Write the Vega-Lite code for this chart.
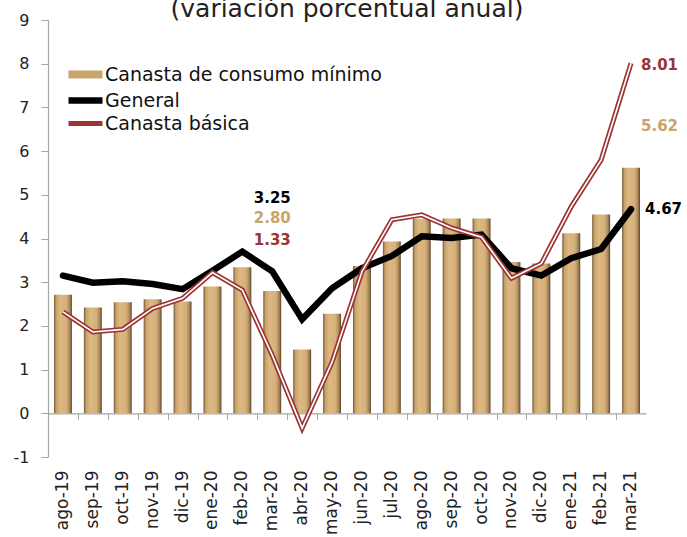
{
  "$schema": "https://vega.github.io/schema/vega-lite/v6.json",
  "autosize": "none",
  "width": 598,
  "height": 437,
  "padding": {"left": 48, "top": 20, "right": 41, "bottom": 80},
  "background": "white",
  "title": {"text": "(variación porcentual anual)", "fontSize": 25, "fontWeight": "normal", "font": "DejaVu Sans", "color": "#222", "anchor": "middle", "offset": 2, "dy": 12},
  "config": {
    "view": {"stroke": null},
    "font": "DejaVu Sans",
    "axis": {"labelFont": "DejaVu Sans", "labelColor": "#222", "grid": false, "title": null},
    "legend": {"labelFont": "DejaVu Sans"}
  },
  "data": {"values": [
    {"mes": "ago-19", "minimo": 2.71, "general": 3.15, "basica": 2.32},
    {"mes": "sep-19", "minimo": 2.42, "general": 2.99, "basica": 1.86},
    {"mes": "oct-19", "minimo": 2.54, "general": 3.02, "basica": 1.92},
    {"mes": "nov-19", "minimo": 2.61, "general": 2.96, "basica": 2.40},
    {"mes": "dic-19", "minimo": 2.56, "general": 2.84, "basica": 2.63},
    {"mes": "ene-20", "minimo": 2.90, "general": 3.26, "basica": 3.22},
    {"mes": "feb-20", "minimo": 3.34, "general": 3.70, "basica": 2.82},
    {"mes": "mar-20", "minimo": 2.80, "general": 3.25, "basica": 1.33},
    {"mes": "abr-20", "minimo": 1.46, "general": 2.15, "basica": -0.34},
    {"mes": "may-20", "minimo": 2.28, "general": 2.86, "basica": 1.17},
    {"mes": "jun-20", "minimo": 3.37, "general": 3.32, "basica": 3.24},
    {"mes": "jul-20", "minimo": 3.93, "general": 3.60, "basica": 4.43},
    {"mes": "ago-20", "minimo": 4.45, "general": 4.05, "basica": 4.54},
    {"mes": "sep-20", "minimo": 4.46, "general": 4.01, "basica": 4.24},
    {"mes": "oct-20", "minimo": 4.46, "general": 4.09, "basica": 4.03},
    {"mes": "nov-20", "minimo": 3.46, "general": 3.32, "basica": 3.09},
    {"mes": "dic-20", "minimo": 3.43, "general": 3.15, "basica": 3.43},
    {"mes": "ene-21", "minimo": 4.12, "general": 3.55, "basica": 4.73},
    {"mes": "feb-21", "minimo": 4.55, "general": 3.76, "basica": 5.80},
    {"mes": "mar-21", "minimo": 5.62, "general": 4.67, "basica": 8.01}
  ]},
  "resolve": {"axis": {"x": "independent"}},
  "layer": [
    {
      "mark": {"type": "bar", "fill": {"gradient": "linear", "x1": 0, "x2": 1, "y1": 0, "y2": 0, "stops": [
        {"offset": 0, "color": "#6e5738"},
        {"offset": 0.12, "color": "#c8a168"},
        {"offset": 0.35, "color": "#dcb882"},
        {"offset": 0.7, "color": "#d6b07a"},
        {"offset": 0.88, "color": "#a88659"},
        {"offset": 1, "color": "#574429"}
      ]}},
      "encoding": {
        "x": {"field": "mes", "type": "ordinal", "sort": null,
          "scale": {"paddingInner": 0.4, "paddingOuter": 0.2},
          "axis": {"orient": "bottom", "domain": false, "ticks": false, "labelAngle": -90, "labelFontSize": 17, "labelPadding": 13, "labelColor": "#222"}},
        "y": {"field": "minimo", "type": "quantitative",
          "scale": {"domain": [-1, 9], "nice": false, "zero": false},
          "axis": {"values": [-1, 0, 1, 2, 3, 4, 5, 6, 7, 8, 9], "labelExpr": "replace(datum.label, '−', '-')", "domainColor": "#a6a6a6", "tickColor": "#a6a6a6", "tickSize": 7, "labelFontSize": 16, "labelPadding": 12, "domainWidth": 1.2}}
      }
    },
    {
      "mark": {"type": "rule", "opacity": 0},
      "encoding": {
        "x": {"field": "mes", "type": "ordinal", "sort": null,
          "axis": {"orient": "bottom", "offset": -43.7, "labels": false, "domain": true, "ticks": true, "tickOffset": -14.95, "tickSize": 6, "domainColor": "#a6a6a6", "tickColor": "#a6a6a6", "domainWidth": 1.2}}
      }
    },
    {
      "mark": {"type": "line", "strokeCap": "round", "strokeJoin": "miter"},
      "encoding": {
        "x": {"field": "mes", "type": "ordinal", "sort": null, "axis": null},
        "y": {"field": "general", "type": "quantitative"},
        "color": {"datum": "General", "type": "nominal",
          "scale": {"domain": ["Canasta de consumo mínimo", "General", "Canasta básica"], "range": ["#c9a46c", "#000000", "#9b3434"]},
          "legend": {"orient": "none", "legendX": 35, "legendY": 45, "title": null, "symbolType": "M-4.8,0H2", "symbolSize": 100, "labelFontSize": 19, "labelLimit": 400, "labelColor": "#111", "rowPadding": -5, "labelOffset": 3}},
        "strokeWidth": {"datum": "General", "type": "nominal",
          "scale": {"domain": ["Canasta de consumo mínimo", "General", "Canasta básica"], "range": [8, 5, 4]},
          "legend": {"orient": "none", "legendX": 35, "legendY": 45, "title": null, "symbolType": "M-4.8,0H2", "symbolSize": 100, "labelFontSize": 19, "labelLimit": 400, "labelColor": "#111", "rowPadding": -5, "labelOffset": 3}}
      }
    },
    {
      "mark": {"type": "line", "strokeJoin": "miter"},
      "encoding": {
        "x": {"field": "mes", "type": "ordinal", "sort": null, "axis": null},
        "y": {"field": "basica", "type": "quantitative"},
        "color": {"datum": "Canasta básica", "type": "nominal"},
        "strokeWidth": {"datum": "Canasta básica", "type": "nominal"}
      }
    },
    {
      "mark": {"type": "line", "color": "white", "strokeWidth": 1.6, "strokeJoin": "miter"},
      "encoding": {
        "x": {"field": "mes", "type": "ordinal", "sort": null, "axis": null},
        "y": {"field": "basica", "type": "quantitative"}
      }
    },
    {
      "transform": [{"filter": "datum.mes == 'mar-20'"}],
      "mark": {"type": "text", "fontWeight": "bold", "fontSize": 15, "color": "#000", "dy": -73, "baseline": "middle"},
      "encoding": {
        "x": {"field": "mes", "type": "ordinal", "sort": null, "axis": null},
        "y": {"field": "general", "type": "quantitative"},
        "text": {"field": "general", "type": "quantitative", "format": ".2f"}
      }
    },
    {
      "transform": [{"filter": "datum.mes == 'mar-20'"}],
      "mark": {"type": "text", "fontWeight": "bold", "fontSize": 15, "color": "#c9a46c", "dy": -73, "baseline": "middle"},
      "encoding": {
        "x": {"field": "mes", "type": "ordinal", "sort": null, "axis": null},
        "y": {"field": "minimo", "type": "quantitative"},
        "text": {"field": "minimo", "type": "quantitative", "format": ".2f"}
      }
    },
    {
      "transform": [{"filter": "datum.mes == 'mar-20'"}],
      "mark": {"type": "text", "fontWeight": "bold", "fontSize": 15, "color": "#9b3434", "dy": -115, "baseline": "middle"},
      "encoding": {
        "x": {"field": "mes", "type": "ordinal", "sort": null, "axis": null},
        "y": {"field": "basica", "type": "quantitative"},
        "text": {"field": "basica", "type": "quantitative", "format": ".2f"}
      }
    },
    {
      "transform": [{"filter": "datum.mes == 'mar-21'"}],
      "mark": {"type": "text", "fontWeight": "bold", "fontSize": 15, "color": "#9b3434", "dx": 10, "dy": 2, "align": "left", "baseline": "middle"},
      "encoding": {
        "x": {"field": "mes", "type": "ordinal", "sort": null, "axis": null},
        "y": {"field": "basica", "type": "quantitative"},
        "text": {"field": "basica", "type": "quantitative", "format": ".2f"}
      }
    },
    {
      "transform": [{"filter": "datum.mes == 'mar-21'"}],
      "mark": {"type": "text", "fontWeight": "bold", "fontSize": 15, "color": "#c9a46c", "dx": 10, "dy": -42, "align": "left", "baseline": "middle"},
      "encoding": {
        "x": {"field": "mes", "type": "ordinal", "sort": null, "axis": null},
        "y": {"field": "minimo", "type": "quantitative"},
        "text": {"field": "minimo", "type": "quantitative", "format": ".2f"}
      }
    },
    {
      "transform": [{"filter": "datum.mes == 'mar-21'"}],
      "mark": {"type": "text", "fontWeight": "bold", "fontSize": 15, "color": "#000", "dx": 14, "dy": 0, "align": "left", "baseline": "middle"},
      "encoding": {
        "x": {"field": "mes", "type": "ordinal", "sort": null, "axis": null},
        "y": {"field": "general", "type": "quantitative"},
        "text": {"field": "general", "type": "quantitative", "format": ".2f"}
      }
    }
  ]
}
